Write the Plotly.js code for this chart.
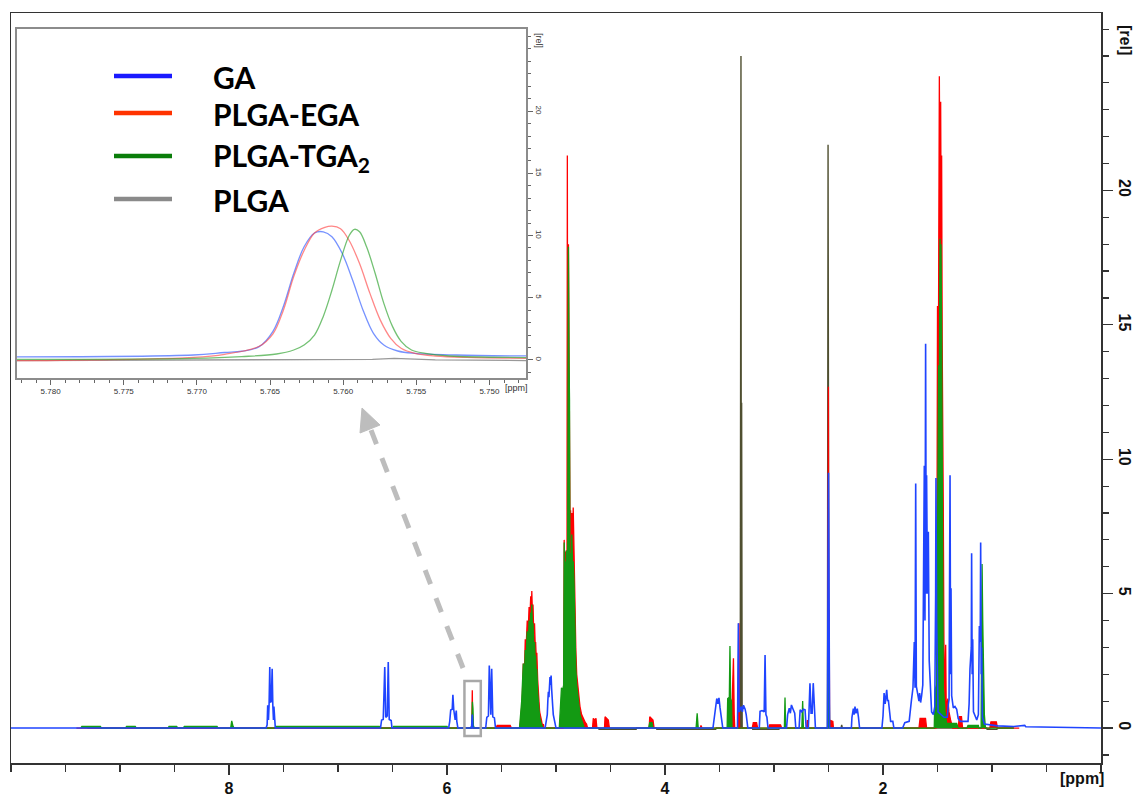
<!DOCTYPE html>
<html>
<head>
<meta charset="utf-8">
<script src="https://cdn.plot.ly/plotly-3.0.1.min.js"></script>
<style>
html,body{margin:0;padding:0;background:#fff;}
#chart{width:1138px;height:798px;}
</style>
</head>
<body>
<div id="chart"></div>
<script>
// ---------- Main spectrum (ppm, intensity [rel]) ----------
const gaPpm = [10.0,7.66,7.65,7.645,7.638,7.632,7.626,7.62,7.612,7.604,7.598,7.592,7.588,7.582,7.575,
 6.61,6.60,6.585,6.571,6.562,6.548,6.539,6.53,6.512,6.505,
 5.985,5.975,5.966,5.952,5.946,5.938,5.925,5.915,5.91,5.90,
 5.775,5.768,5.762,
 5.645,5.635,5.62,5.612,5.604,5.598,5.59,5.58,5.565,5.555,
 5.10,5.09,5.08,5.075,5.07,5.065,5.06,5.055,5.05,5.045,5.04,5.035,5.03,5.025,5.015,5.0,
 3.56,3.55,3.535,3.525,3.515,3.505,3.495,3.485,3.47,
 3.335,3.327,3.32,3.30,3.29,3.28,3.265,3.255,3.24,
 3.135,3.128,3.11,3.09,3.082,3.074,3.065,3.055,
 2.885,2.875,2.86,2.85,2.84,2.825,2.81,2.80,
 2.77,2.76,2.745,2.73,2.715,2.705,
 2.685,2.68,2.67,2.66,2.65,2.64,2.63,2.62,
 2.51,2.500,2.49,
 2.29,2.285,2.272,2.265,2.257,2.248,2.236,2.225,2.215,
 2.01,2.0,1.99,1.98,1.966,1.958,1.951,1.94,1.93,1.91,1.90,
 1.82,1.80,1.76,1.75,1.74,1.725,1.713,1.706,1.700,1.694,1.676,1.67,1.664,1.655,1.646,1.635,
 1.621,1.615,1.609,1.603,1.600,1.592,1.584,1.576,1.569,1.56,1.554,1.538,1.525,1.517,1.514,1.508,1.502,1.495,
 1.44,1.41,1.40,1.394,1.385,1.380,1.376,1.37,1.364,1.355,1.34,1.324,1.31,1.29,
 1.22,1.21,1.202,1.19,1.187,1.182,1.177,1.17,1.14,1.125,1.12,1.116,1.108,1.104,1.099,1.095,1.088,1.07,
 0.95,0.80,0.70,0.69,0.0];
const gaInt = [0,0,0.12,0.85,0.3,0.9,2.27,0.95,1.0,2.21,0.85,0.3,0.8,0.12,0,
 0,0.3,0.32,2.27,0.4,0.45,2.46,0.32,0.28,0,
 0,0.25,0.67,0.7,1.24,0.68,0.3,0.65,0.25,0,
 0,0.5,0,
 0,0.4,0.45,2.33,0.5,0.5,2.21,0.42,0.38,0,
 0,0.3,0.5,1.0,1.35,1.15,1.5,1.9,1.6,1.95,1.45,1.25,0.8,0.5,0.25,0,
 0,0.3,0.8,1.1,0.9,1.12,0.75,0.35,0,
 0,3.9,0.6,0.8,0.6,0.85,0.7,0.5,0,
 0,0.62,0.65,0.6,2.72,0.5,0.4,0,
 0,0.5,0.74,0.55,0.86,0.7,0.55,0,
 0,0.68,0.6,0.7,0.68,0,
 0,0.5,1.67,0.55,0.55,1.67,0.5,0,
 0,9.5,0,
 0,0.4,0.72,0.5,0.8,0.55,0.72,0.4,0,
 0,0.45,1.3,0.9,1.42,1.0,1.05,0.45,0.25,0.25,0,
 0,0.2,0.25,0.7,1.0,1.5,3.2,1.5,9.1,1.55,1.2,1.0,1.3,0.95,1.2,1.6,
 9.76,4.0,14.3,5.0,9.4,5.0,7.3,2.5,1.9,0.8,0.6,0.5,0.8,5.0,9.3,4.0,2.4,0.6,
 0.4,0.4,0.9,1.06,9.4,2.0,5.2,1.2,1.06,0.75,0.8,0.7,0.35,0.25,
 0.25,0.9,2.2,3.0,6.5,2.0,3.3,0.6,0.3,0.5,2.0,3.8,3.2,6.9,2.0,3.0,0.4,0.15,
 0.08,0.06,0.1,0.05,0];

const egaPpm = [9.4,5.78,5.772,5.768,5.764,5.755,
 5.55,5.54,5.42,5.41,
 5.335,5.327,5.31,5.30,5.29,5.282,5.275,5.264,5.255,5.247,5.24,5.232,5.226,5.222,5.216,5.211,5.204,5.197,5.19,5.187,5.18,5.176,5.168,5.159,5.15,5.134,5.125,5.116,5.11,
 4.935,4.93,4.925,4.918,4.913,4.905,4.899,4.896,4.892,4.886,4.880,4.875,4.871,4.866,4.86,4.855,4.848,4.842,4.836,4.83,4.825,4.818,4.81,4.80,4.79,4.78,4.765,4.75,4.73,4.72,4.71,
 4.665,4.658,4.645,4.633,4.625,
 4.555,4.55,4.535,4.52,4.51,
 4.145,4.14,4.125,4.11,4.10,
 3.675,3.67,3.66,
 3.40,3.392,3.384,3.372,3.365,3.36,
 3.33,3.322,3.316,
 3.20,3.19,3.16,3.15,
 3.05,3.04,2.94,2.93,
 2.70,2.694,2.688,
 2.508,2.501,2.498,2.494,2.49,2.46,2.455,
 1.67,1.66,1.61,1.60,
 1.515,1.508,1.50,1.495,1.489,1.483,1.477,1.471,1.466,1.462,1.457,1.452,1.447,1.441,1.435,1.43,1.425,1.42,1.405,1.395,1.38,1.36,
 1.31,1.30,1.28,1.27,
 1.02,1.01,0.96,0.95,0.75];
const egaInt = [0,0,0.1,1.41,0.1,0,
 0,0.1,0.1,0,
 0,0.2,1.0,2.4,2.0,3.3,2.9,4.0,3.6,4.5,4.0,4.9,4.3,5.1,4.2,4.6,3.5,3.9,3.0,3.2,2.5,2.8,1.8,1.2,0.6,0.3,0.1,0.15,0,
 0,1.2,7.0,5.5,6.5,6.6,6.0,21.3,7.0,18.0,12.3,12.3,7.5,8.1,6.8,8.0,7.2,8.2,6.5,5.7,4.0,2.9,2.0,1.6,1.1,0.8,0.5,0.35,0.2,0.15,0,
 0,0.36,0.3,0.36,0,
 0,0.42,0.35,0.3,0,
 0,0.42,0.35,0.3,0,
 0,0.1,0,
 0,0.8,0.9,2.6,0.5,0,
 0,3.9,0,
 0,0.2,0.2,0,
 0,0.12,0.12,0,
 0,0.3,0,
 0,12.7,1.0,4.4,0.3,0.25,0,
 0,0.36,0.36,0,
 0,1.0,15.7,10,22,24.25,19,23.3,18,21.3,14.4,12,8.2,3.2,1.06,0.7,3.1,0.7,1.1,0.6,0.3,0,
 0,0.42,0.42,0,
 0,0.23,0.23,0,0];

const tgaPpm = [9.36,9.35,9.18,9.17,
 8.95,8.94,8.86,8.85,
 8.56,8.55,8.48,8.47,
 8.42,8.41,8.11,8.10,
 7.985,7.975,7.965,7.955,
 7.58,7.57,6.62,6.61,
 6.50,6.49,6.0,5.99,
 5.78,5.772,5.767,5.762,5.758,5.75,
 5.335,5.327,5.315,5.30,5.29,5.282,5.275,5.264,5.255,5.247,5.24,5.232,5.226,5.222,5.216,5.211,5.204,5.197,5.19,5.187,5.18,5.176,5.168,5.159,5.15,5.134,5.12,
 4.97,4.96,4.95,4.94,4.93,4.925,4.918,4.913,4.908,4.905,4.898,4.893,4.886,4.88,4.876,4.872,4.866,4.86,4.855,4.848,4.842,4.835,4.83,4.825,4.818,4.81,4.80,4.79,4.78,4.765,4.75,4.74,
 4.15,4.14,4.12,4.11,
 3.715,3.705,3.695,
 3.43,3.425,3.41,3.404,3.398,3.39,3.385,
 2.905,2.899,2.893,
 2.745,2.737,2.73,
 2.505,2.497,2.49,
 1.53,1.523,1.51,1.503,1.499,1.494,1.49,1.484,1.477,1.472,1.468,1.462,1.456,1.45,1.447,1.43,1.416,1.324,1.31,
 1.23,1.22,1.125,1.12,
 1.10,1.095,1.091,1.085,1.08,1.07,1.06,0.8];
const tgaInt = [0,0.06,0.06,0,
 0,0.06,0.06,0,
 0,0.06,0.06,0,
 0,0.06,0.06,0,
 0,0.27,0.1,0,
 0,0.06,0.06,0,
 0,0.06,0.06,0,
 0,0.1,0.98,0.73,0.1,0,
 0,0.3,1.0,2.4,1.8,2.9,2.4,3.6,3.0,4.0,3.4,4.3,3.8,4.6,3.6,3.9,3.0,3.2,2.4,2.7,1.9,2.2,1.3,0.8,0.4,0.15,0,
 0,0.6,1.5,1.4,1.6,6.9,5.0,6.2,5.2,6.6,5.5,6.0,17.9,13.5,12.2,6.0,6.5,5.8,7.2,6.0,6.2,5.5,4.3,3.2,2.2,1.6,1.2,0.8,0.5,0.3,0.15,0,
 0,0.2,0.2,0,
 0,0.55,0,
 0,1.1,1.15,3.05,1.1,1.0,0,
 0,1.14,0,
 0,1.01,0,
 0,3.0,0,
 0,1.4,1.6,4.0,7.2,6.0,13.5,12.0,18.2,15.0,18.0,14.6,5.6,2.5,1.5,0.6,0.17,0.17,0,
 0,0.1,0.1,0,
 0,3.0,6.1,4.0,3.0,0.5,0,0];

const plgaPpm = [9.3,4.61,4.605,4.265,4.26,
 4.08,4.075,3.535,3.53,
 3.31,3.303,3.299,3.297,3.292,
 3.20,3.195,2.955,2.95,
 2.51,2.504,2.501,2.499,2.496,
 2.40,2.385,2.379,2.373,
 1.05,1.045,0.955,0.95,0.8];
const plgaInt = [0,0,-0.05,-0.05,0,
 0,-0.05,-0.05,0,
 0,25.0,0,12.1,0,
 0,-0.05,-0.05,0,
 0,21.7,0,16.8,0,
 0,0,0.12,0,
 0,-0.05,-0.05,0,0];

// ---------- Inset: zoom on 5.76 ppm ----------
const insGaPpm  = [5.7823,5.77024,5.76811,5.76693,5.76574,5.7648,5.76409,5.76338,5.76267,5.76196,5.76136,5.76077,5.76006,5.75935,5.75864,5.75793,5.75722,5.75627,5.75509,5.75225,5.74732];
const insGaInt  = [0.25,0.4,0.6,0.7,1.07,2.3,4.3,6.95,9.1,10.2,10.3,9.9,8.55,6.4,4.0,2.14,1.2,0.72,0.53,0.4,0.32];
const insEgaPpm = [5.7823,5.7802,5.77024,5.76811,5.76574,5.7648,5.76409,5.76338,5.76267,5.76196,5.76125,5.76077,5.76018,5.75959,5.75888,5.75817,5.75746,5.75675,5.75604,5.75509,5.75367,5.75154,5.74732];
const insEgaInt = [-0.05,-0.05,0.2,0.45,1.1,2.1,4.0,6.7,8.8,10.2,10.65,10.75,10.55,9.6,7.75,5.35,3.2,1.74,0.94,0.53,0.32,0.21,0.13];
const insTgaPpm = [5.7823,5.77024,5.76693,5.76456,5.76338,5.76267,5.76196,5.76136,5.76077,5.76018,5.75959,5.75923,5.75888,5.7584,5.75781,5.75722,5.75663,5.75604,5.75533,5.75438,5.75272,5.74732];
const insTgaInt = [0.05,0.13,0.27,0.48,0.8,1.2,2.0,3.5,5.6,8.0,10.0,10.5,10.3,9.1,6.95,4.55,2.7,1.5,0.8,0.53,0.32,0.19];
const insPlgaPpm = [5.7823,5.7622,5.7580,5.7565,5.7537,5.74732];
const insPlgaInt = [-0.05,0.0,0.05,0.13,0.0,-0.05];

const mainXTicks = [8,6,4,2];
const mainXLabels = ['8','6','4','2'];
const mainYTicks = [0,5,10,15,20];
const insXTicks = [5.780,5.775,5.770,5.765,5.760,5.755,5.750];
const insXLabels = ['5.780','5.775','5.770','5.765','5.760','5.755','5.750'];
const insYTicks = [0,5,10,15,20];

const seriesNames = ['GA','PLGA-EGA','PLGA-TGA<sub>2</sub>','PLGA'];
const legendColors = ['#1a1aff','#ff3300','#0a7d0a','#8a8a8a'];

// ---------- Traces ----------
const lw = 1.3;
const traces = [
  {x: plgaPpm, y: plgaInt, type:'scatter', mode:'lines', line:{color:'#4f4f30', width:1.4}, hoverinfo:'skip'},
  {x: egaPpm, y: egaInt, type:'scatter', mode:'lines', fill:'tozeroy', fillcolor:'#ff0000', line:{color:'#ff0000', width:lw}},
  {x: tgaPpm, y: tgaInt, type:'scatter', mode:'lines', fill:'tozeroy', fillcolor:'#139a13', line:{color:'#139a13', width:lw}},
  {x: gaPpm, y: gaInt, type:'scatter', mode:'lines', line:{color:'#1f44ff', width:1.6}},
  {x: insPlgaPpm, y: insPlgaInt, xaxis:'x2', yaxis:'y2', type:'scatter', mode:'lines', line:{color:'rgba(110,110,110,0.7)', width:1.3}},
  {x: insGaPpm, y: insGaInt, xaxis:'x2', yaxis:'y2', type:'scatter', mode:'lines', line:{color:'rgba(60,100,255,0.7)', width:1.3, shape:'spline'}},
  {x: insEgaPpm, y: insEgaInt, xaxis:'x2', yaxis:'y2', type:'scatter', mode:'lines', line:{color:'rgba(255,70,70,0.65)', width:1.3, shape:'spline'}},
  {x: insTgaPpm, y: insTgaInt, xaxis:'x2', yaxis:'y2', type:'scatter', mode:'lines', line:{color:'rgba(40,160,40,0.65)', width:1.3, shape:'spline'}}
];

// ---------- Layout helpers (plot area: l=11, t=13, w=1090, h=750) ----------
const L=11, T=13, W=1090, H=750;
const px = v => (v - L)/W;
const py = v => (T + H - v)/H;

const shapes = [];
const annotations = [];

// custom legend inside inset
const legY = [76,113,156,199];
seriesNames.forEach((n,i)=>{
  shapes.push({type:'line', xref:'paper', yref:'paper', x0:px(114), x1:px(172), y0:py(legY[i]), y1:py(legY[i]), line:{color:legendColors[i], width:4.5}});
  annotations.push({xref:'paper', yref:'paper', x:px(211), y:py(legY[i]+1), xanchor:'left', yanchor:'middle', showarrow:false, text:'<b>'+n+'</b>', font:{family:'Lato, Open Sans, sans-serif', size:30, color:'#000'}});
});

// gray box around the 5.76 ppm signal
shapes.push({type:'rect', xref:'x', yref:'y', x0:5.84, x1:5.69, y0:-0.3, y1:1.75, line:{color:'#a8a8a8', width:2.5}});
// dashed arrow
shapes.push({type:'line', xref:'paper', yref:'paper', x0:px(463), y0:py(668), x1:px(371), y1:py(430), line:{color:'#bdbdbd', width:5, dash:'dash'}});
shapes.push({type:'path', xref:'paper', yref:'paper',
  path:'M '+px(362)+' '+py(408)+' L '+px(380)+' '+py(425)+' L '+px(360)+' '+py(433)+' Z',
  fillcolor:'#bdbdbd', line:{color:'#bdbdbd', width:1}});

// axis unit labels
annotations.push({xref:'paper', yref:'paper', x:px(1106), y:py(778), xanchor:'right', yanchor:'middle', showarrow:false, text:'<b>[ppm]</b>', font:{family:'Liberation Sans Narrow, Liberation Sans, Arial, sans-serif', size:16, color:'#111'}});
annotations.push({xref:'paper', yref:'paper', x:px(1126), y:py(40), xanchor:'center', yanchor:'middle', showarrow:false, textangle:90, text:'<b>[rel]</b>', font:{family:'Liberation Sans Narrow, Liberation Sans, Arial, sans-serif', size:16, color:'#111'}});
annotations.push({xref:'paper', yref:'paper', x:px(530), y:py(388), xanchor:'right', yanchor:'middle', showarrow:false, text:'[ppm]', font:{family:'Liberation Sans, Arial, sans-serif', size:9, color:'#333'}});
annotations.push({xref:'paper', yref:'paper', x:px(539), y:py(40), xanchor:'center', yanchor:'middle', showarrow:false, textangle:90, text:'[rel]', font:{family:'Liberation Sans, Arial, sans-serif', size:9, color:'#333'}});

const tickFont = {family:'Liberation Sans Narrow, Liberation Sans, Arial, sans-serif', size:16, color:'#111', weight:'bold'};
const insFont = {family:'Liberation Sans, Arial, sans-serif', size:8, color:'#333'};

const layout = {
  width:1138, height:798,
  margin:{l:L, r:1138-L-W, t:T, b:798-T-H, pad:0},
  paper_bgcolor:'#fff', plot_bgcolor:'#fff',
  showlegend:false,
  xaxis:{range:[10,0], domain:[0,1], anchor:'y', showgrid:false, zeroline:false,
    showline:true, mirror:true, linecolor:'#333', linewidth:1.5,
    ticks:'outside', ticklen:10, tickwidth:1.3, tickcolor:'#333',
    tickmode:'array', tickvals:mainXTicks, ticktext:mainXLabels, tickfont:tickFont,
    minor:{ticks:'outside', tickmode:'linear', tick0:0, dtick:0.5, ticklen:7, tickwidth:1.2, tickcolor:'#333'}},
  yaxis:{range:[-1.3,26.6], domain:[0,1], anchor:'x', side:'right', showgrid:false, zeroline:false,
    showline:true, mirror:true, linecolor:'#333', linewidth:1.5,
    ticks:'outside', ticklen:10, tickwidth:1.3, tickcolor:'#333',
    tickmode:'array', tickvals:mainYTicks, tickangle:90, tickfont:tickFont,
    minor:{ticks:'outside', tickmode:'linear', tick0:0, dtick:1, ticklen:6, tickwidth:1.2, tickcolor:'#333'}},
  xaxis2:{range:[5.7823,5.7475], domain:[px(17), px(526)], anchor:'y2', showgrid:false, zeroline:false,
    showline:true, mirror:true, linecolor:'#8c8c8c', linewidth:1.6,
    ticks:'outside', ticklen:5, tickwidth:1, tickcolor:'#666',
    tickmode:'array', tickvals:insXTicks, ticktext:insXLabels, tickfont:insFont,
    minor:{ticks:'outside', tickmode:'linear', tick0:5.75, dtick:0.001, ticklen:3, tickwidth:1, tickcolor:'#666'}},
  yaxis2:{range:[-1.45,26.6], domain:[py(378), py(29)], anchor:'x2', side:'right', showgrid:false, zeroline:false,
    showline:true, mirror:true, linecolor:'#8c8c8c', linewidth:1.6,
    ticks:'outside', ticklen:5, tickwidth:1, tickcolor:'#666',
    tickmode:'array', tickvals:insYTicks, tickangle:90, tickfont:insFont,
    minor:{ticks:'outside', tickmode:'linear', tick0:0, dtick:1, ticklen:3, tickwidth:1, tickcolor:'#666'}},
  shapes:shapes,
  annotations:annotations
};

Plotly.newPlot('chart', traces, layout, {displayModeBar:false, staticPlot:true});
</script>
</body>
</html>
